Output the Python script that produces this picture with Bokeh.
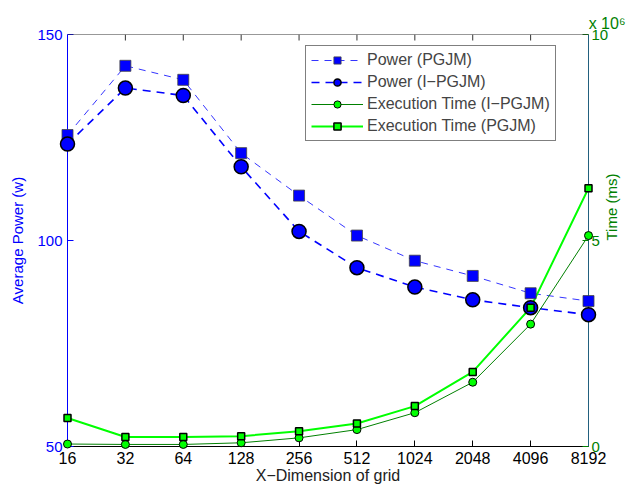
import math
from bokeh.plotting import figure
from bokeh.models import (Range1d, LinearAxis, FixedTicker, BasicTickFormatter,
                          Legend, LegendItem, Span, Title)
from bokeh.embed import file_html
from bokeh.resources import INLINE

# ---- data ----
grid = [16, 32, 64, 128, 256, 512, 1024, 2048, 4096, 8192]
power_pgjm = [125.6, 142.4, 139.0, 121.2, 110.9, 101.2, 95.1, 91.4, 87.2, 85.3]
power_ipgjm = [123.4, 137.0, 135.2, 117.9, 102.2, 93.4, 88.7, 85.6, 83.7, 82.0]
# execution time in units of 10^6 ms
time_ipgjm = [0.06, 0.05, 0.05, 0.09, 0.21, 0.41, 0.82, 1.56, 2.97, 5.12]
time_pgjm = [0.69, 0.23, 0.23, 0.25, 0.37, 0.56, 0.98, 1.81, 3.37, 6.27]
power_ticks = [50, 100, 150]
time_ticks = [0, 5, 10]

FONT = "Liberation Sans"
BLUE = "#0000ff"
DGREEN = "#008000"
LIME = "#00ff00"

p = figure(width=631, height=487, x_axis_type="log",
           x_range=Range1d(16, 8192), y_range=Range1d(50, 150),
           output_backend="svg", toolbar_location=None,
           min_border_left=67, min_border_right=42, min_border_top=34, min_border_bottom=41)
p.extra_y_ranges = {"time": Range1d(0, 10)}
p.grid.visible = False
p.outline_line_color = None
p.background_fill_color = "white"
p.border_fill_color = "white"

# exponent note above the right axis
p.add_layout(Title(text="x 10\u2076", align="right", offset=-37, standoff=5,
                   text_color=DGREEN, text_font=FONT, text_font_size="16px",
                   text_font_style="normal"), "above")

# bottom axis
xa = p.xaxis[0]
xa.ticker = FixedTicker(ticks=grid)
xa.formatter = BasicTickFormatter(use_scientific=False)
xa.axis_label = "X\u2212Dimension of grid"
xa.axis_label_text_font = FONT
xa.axis_label_text_font_size = "16px"
xa.axis_label_text_font_style = "normal"
xa.axis_label_text_color = "#222222"
xa.axis_label_standoff = 0
xa.major_label_text_font = FONT
xa.major_label_text_font_size = "16px"
xa.major_label_text_color = "black"
xa.major_label_standoff = 5
xa.axis_line_color = "black"
xa.major_tick_line_color = "black"
xa.major_tick_in = 6
xa.major_tick_out = 0
xa.minor_tick_line_color = None

# top border and mirrored ticks
p.add_layout(Span(location=150, dimension="width", line_color="#333333", line_width=1))
p.ray(x=grid, y=[power_ticks[-1]] * len(grid), length=6, length_units="screen",
      angle=-math.pi / 2, line_color="#333333", line_width=1)

# left axis
ya = p.yaxis[0]
ya.ticker = FixedTicker(ticks=power_ticks)
ya.axis_label = "Average Power (w)"
ya.axis_label_text_font = FONT
ya.axis_label_text_font_size = "15px"
ya.axis_label_text_font_style = "normal"
ya.axis_label_text_color = BLUE
ya.axis_label_standoff = 8
ya.major_label_text_font = FONT
ya.major_label_text_font_size = "15px"
ya.major_label_text_color = BLUE
ya.major_label_standoff = 5
ya.axis_line_color = BLUE
ya.major_tick_line_color = BLUE
ya.major_tick_in = 6
ya.major_tick_out = 0
ya.minor_tick_line_color = None

# right axis
ra = LinearAxis(y_range_name="time", ticker=FixedTicker(ticks=time_ticks),
                formatter=BasicTickFormatter(use_scientific=False),
                axis_label="Time (ms)")
ra.axis_label_text_font = FONT
ra.axis_label_text_font_size = "15px"
ra.axis_label_text_font_style = "normal"
ra.axis_label_text_color = DGREEN
ra.axis_label_standoff = 0
ra.axis_label_orientation = math.pi / 2
ra.major_label_text_font = FONT
ra.major_label_text_font_size = "15px"
ra.major_label_text_color = DGREEN
ra.major_label_standoff = 3
ra.axis_line_color = "#22607e"
ra.major_tick_line_color = DGREEN
ra.major_tick_in = 6
ra.major_tick_out = 0
ra.minor_tick_line_color = None
p.add_layout(ra, "right")

# series
l1 = p.line(grid, power_pgjm, line_color=BLUE, line_width=0.8, line_dash="7 6")
l2 = p.line(grid, power_ipgjm, line_color=BLUE, line_width=1.6, line_dash="8 6")
l3 = p.line(grid, time_ipgjm, y_range_name="time", line_color=DGREEN, line_width=1)
l4 = p.line(grid, time_pgjm, y_range_name="time", line_color=LIME, line_width=2)
s1 = p.scatter(grid, power_pgjm, marker="square", size=11, fill_color=BLUE,
               line_color="#444444", line_width=0.8, level="overlay")
s2 = p.scatter(grid, power_ipgjm, marker="circle", size=14, fill_color=BLUE,
               line_color="black", line_width=1.5, level="overlay")
s3 = p.scatter(grid, time_ipgjm, y_range_name="time", marker="circle", size=8,
               fill_color=LIME, line_color="black", line_width=1, level="overlay")
s4 = p.scatter(grid, time_pgjm, y_range_name="time", marker="square", size=7,
               fill_color=LIME, line_color="black", line_width=1.5, level="overlay")

legend = Legend(items=[
    LegendItem(label="Power (PGJM)", renderers=[l1, s1]),
    LegendItem(label="Power (I\u2212PGJM)", renderers=[l2, s2]),
    LegendItem(label="Execution Time (I\u2212PGJM)", renderers=[l3, s3]),
    LegendItem(label="Execution Time (PGJM)", renderers=[l4, s4]),
], location=(238, 305))
legend.glyph_width = 52
legend.glyph_height = 18
legend.label_height = 18
legend.spacing = 4
legend.padding = 5
legend.margin = 0
legend.label_standoff = 4
legend.border_line_color = "black"
legend.border_line_width = 1
legend.label_text_font = FONT
legend.label_text_font_size = "16px"
legend.background_fill_color = "white"
legend.background_fill_alpha = 1
p.add_layout(legend)

open("out.html", "w").write(file_html(p, INLINE))
